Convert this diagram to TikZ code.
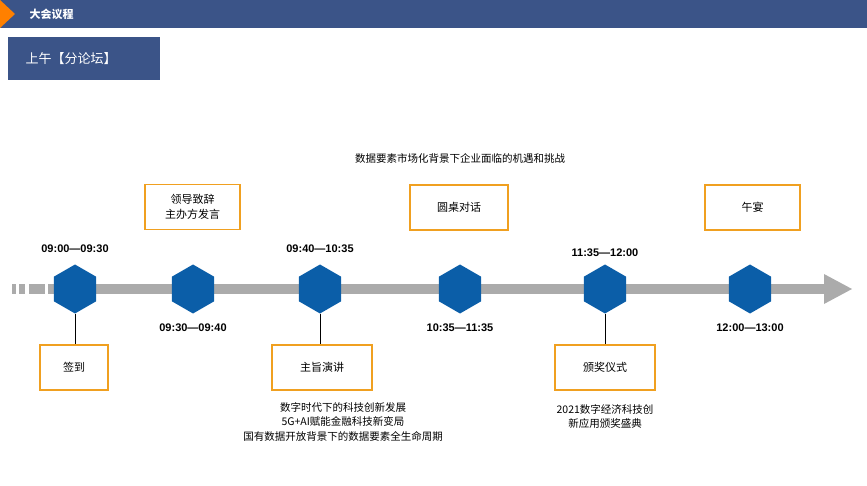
\documentclass[tikz,border=0pt]{standalone}
\usepackage{fontspec}
\setmainfont{Liberation Sans}
\newfontfamily\cjk{Noto Sans CJK SC}
\usetikzlibrary{shapes.geometric}
\definecolor{hdrblue}{HTML}{3B5488}
\definecolor{hexblue}{HTML}{0B5EA8}
\definecolor{boxorange}{HTML}{F0A020}
\definecolor{bargray}{HTML}{ABABAB}
\begin{document}
\begin{tikzpicture}[x=1pt, y=-1pt,
  hexa/.style = {regular polygon, regular polygon sides=6, shape border rotate=30, fill=hexblue, minimum size=49pt, inner sep=0pt},
  event/.style = {draw=boxorange, line width=1.5pt, minimum width=95pt, minimum height=45pt, align=center, font=\cjk\fontsize{11}{15}\selectfont},
  time/.style = {font=\bfseries\fontsize{11}{13}\selectfont},
  note/.style = {align=center, font=\cjk\fontsize{10.5}{14.5}\selectfont}]
  \useasboundingbox (0,0) rectangle (867,486);
  % header
  \fill[hdrblue] (0,0) rectangle (867,28);
  \fill[orange] (0,0) -- (15,14) -- (0,28) -- cycle;
  \node[anchor=west, text=white, font=\cjk\bfseries\fontsize{11}{12}\selectfont] (title) at (26,14) {大会议程};
  \fill[hdrblue] (8,37) rectangle (160,80);
  \node[anchor=west, text=white, font=\cjk\fontsize{13}{14}\selectfont] (session) at (22,58.5) {上午【分论坛】};
  % timeline bar
  \foreach \a/\b in {12/16, 19/25, 29/45, 48/56}
    \fill[bargray] (\a,284) rectangle (\b,294);
  \fill[bargray] (60,284) rectangle (826,294);
  \fill[bargray] (824,274) -- (852,289) -- (824,304) -- cycle;
  % hexagons
  \foreach \n/\x in {h1/75, h2/193, h3/320, h4/460, h5/605, h6/750}
    \node[hexa] (\n) at (\x,289) {};
  % times
  \node[time] (t1) at (75,249) {09:00—09:30};
  \node[time] (t2) at (193,328) {09:30—09:40};
  \node[time] (t3) at (320,249) {09:40—10:35};
  \node[time] (t4) at (460,328) {10:35—11:35};
  \node[time] (t5) at (605,253) {11:35—12:00};
  \node[time] (t6) at (750,328) {12:00—13:00};
  % events
  \node[event, minimum width=68pt] (e1) at (74,367.5) {签到};
  \node[event] (e2) at (192.5,207) {领导致辞\\主办方发言};
  \node[event, minimum width=100pt] (e3) at (322,367.5) {主旨演讲};
  \node[event, minimum width=98pt] (e4) at (459,207.5) {圆桌对话};
  \node[event, minimum width=100pt] (e5) at (605,367.5) {颁奖仪式};
  \node[event] (e6) at (752.5,207.5) {午宴};
  \draw (h1) -- (h1 |- e1.north);
  \draw (h3) -- (h3 |- e3.north);
  \draw (h5) -- (h5 |- e5.north);
  % notes
  \node[note] (n4) at (460,158) {数据要素市场化背景下企业面临的机遇和挑战};
  \node[note, anchor=north] (n3) at (343,399) {数字时代下的科技创新发展\\5G+AI赋能金融科技新变局\\国有数据开放背景下的数据要素全生命周期};
  \node[note, anchor=north] (n5) at (605,401) {2021数字经济科技创\\新应用颁奖盛典};
\end{tikzpicture}
\end{document}
